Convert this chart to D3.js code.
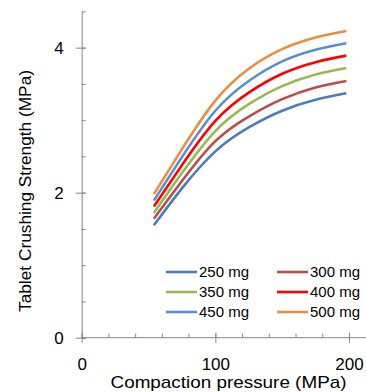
<!DOCTYPE html>
<html>
<head>
<meta charset="utf-8">
<script src="https://cdn.jsdelivr.net/npm/d3@7"></script>
<style>
html,body{margin:0;padding:0;background:#fff;}
svg{display:block;font-family:"Liberation Sans",Arial,sans-serif;}
</style>
</head>
<body>
<svg id="chart" width="366" height="392"></svg>
<script>
const pressures = [54, 75, 100, 125, 150, 175, 198];
const seriesNames = ["250 mg", "300 mg", "350 mg", "400 mg", "450 mg", "500 mg"];
const s250 = [1.55, 2.06, 2.57, 2.90, 3.13, 3.28, 3.37];
const s300 = [1.64, 2.16, 2.71, 3.05, 3.29, 3.45, 3.54];
const s350 = [1.72, 2.27, 2.85, 3.22, 3.47, 3.63, 3.72];
const s400 = [1.81, 2.38, 2.99, 3.38, 3.64, 3.80, 3.89];
const s450 = [1.89, 2.49, 3.13, 3.54, 3.81, 3.97, 4.06];
const s500 = [1.98, 2.60, 3.27, 3.71, 3.98, 4.14, 4.23];
const xTicks = [0, 100, 200];
const yTicks = [0, 2, 4];
const colors = ["#4A7EBB", "#BE4B48", "#98B954", "#FF0000", "#5A8ED0", "#EB8D43"];

const series = [s250, s300, s350, s400, s450, s500].map((vals, i) => ({
  name: seriesNames[i], color: colors[i],
  points: vals.map((v, j) => ({x: pressures[j], y: v}))
}));

const svg = d3.select("#chart");
const x = d3.scaleLinear().domain([0, 200]).range([81.7, 349]);
const y = d3.scaleLinear().domain([0, 4.5]).range([337.7, 11.4]);
const axisColor = "#868686";

// y axis minor ticks
const yMinor = d3.range(0, 4.51, 0.5);
const yMinG = svg.append("g").attr("transform", `translate(${x(0)},0)`)
  .call(d3.axisLeft(y).tickValues(yMinor).tickSizeInner(-4).tickSizeOuter(0).tickFormat(""));
yMinG.select(".domain").attr("stroke", axisColor);
yMinG.selectAll(".tick line").attr("stroke", axisColor);

// y axis major ticks
const yMajG = svg.append("g").attr("transform", `translate(${x(0)},0)`)
  .call(d3.axisLeft(y).tickValues(yTicks).tickSizeInner(6).tickSizeOuter(0).tickPadding(12).tickFormat(d3.format("d")));
yMajG.select(".domain").remove();
yMajG.selectAll(".tick line").attr("stroke", axisColor).attr("x1", 4);
yMajG.selectAll(".tick text").attr("font-size", 17).attr("fill", "#000")
  .attr("font-family", "Liberation Sans, Arial, sans-serif");

// x axis
const xMinor = d3.range(0, 201, 20);
const xMinG = svg.append("g").attr("transform", `translate(0,${y(0)})`)
  .call(d3.axisBottom(x).tickValues(xMinor).tickSizeInner(-4).tickSizeOuter(0).tickFormat(""));
xMinG.select(".domain").remove();
xMinG.selectAll(".tick line").attr("stroke", axisColor);
svg.append("line").attr("x1", x(0)).attr("x2", 366).attr("y1", y(0)).attr("y2", y(0))
  .attr("stroke", axisColor);

const xMajG = svg.append("g").attr("transform", `translate(0,${y(0)})`)
  .call(d3.axisBottom(x).tickValues(xTicks).tickSizeInner(5).tickSizeOuter(0).tickPadding(15).tickFormat(d3.format("d")));
xMajG.select(".domain").remove();
xMajG.selectAll(".tick line").attr("stroke", axisColor).attr("y1", -5);
xMajG.selectAll(".tick text").attr("font-size", 17).attr("fill", "#000")
  .attr("font-family", "Liberation Sans, Arial, sans-serif");

// lines
const line = d3.line().x(d => x(d.x)).y(d => y(d.y)).curve(d3.curveNatural);
svg.append("g").selectAll("path").data(series).join("path")
  .attr("d", d => line(d.points))
  .attr("fill", "none")
  .attr("stroke", d => d.color)
  .attr("stroke-width", 2.6)
  .attr("stroke-linecap", "butt");

// legend
const legendCols = [166, 277];
const legendRows = [272, 292, 312];
const leg = svg.append("g").selectAll("g").data(series).join("g")
  .attr("transform", (d, i) => `translate(${legendCols[i % 2]},${legendRows[Math.floor(i / 2)]})`);
leg.append("line").attr("x1", 0).attr("x2", 31).attr("y1", 0).attr("y2", 0)
  .attr("stroke", d => d.color).attr("stroke-width", 2.6);
leg.append("text").attr("x", 33).attr("y", 5).attr("font-size", 14.5)
  .attr("textLength", 50).attr("lengthAdjust", "spacingAndGlyphs")
  .text(d => d.name);

// axis titles
svg.append("text").attr("x", 228.5).attr("y", 388).attr("text-anchor", "middle")
  .attr("font-size", 17).attr("textLength", 236).attr("lengthAdjust", "spacingAndGlyphs")
  .text("Compaction pressure (MPa)");
svg.append("text").attr("transform", "translate(31,191) rotate(-90)")
  .attr("text-anchor", "middle").attr("font-size", 17)
  .attr("textLength", 242).attr("lengthAdjust", "spacingAndGlyphs")
  .text("Tablet Crushing Strength (MPa)");
</script>
</body>
</html>
